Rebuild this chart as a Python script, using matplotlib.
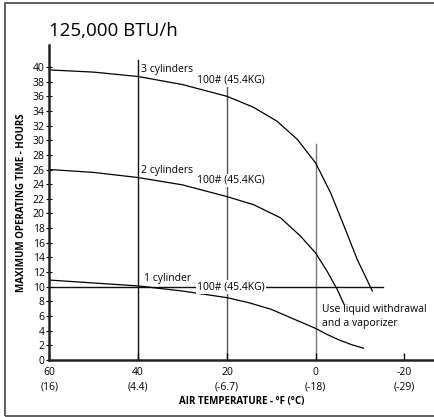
import numpy as np
import matplotlib.pyplot as plt
from matplotlib.patches import Rectangle

plt.rcParams['font.family'] = ['Open Sans', 'DejaVu Sans']

# hours vs air temperature (deg F)
temps_3cyl = [60, 50, 40, 30, 20, 14, 8.7, 4.1, 0, -3.4, -6.4, -9.4, -12.8]
hours_3cyl = [39.6, 39.3, 38.7, 37.6, 36.0, 34.5, 32.6, 30.1, 26.9, 22.8, 18.3, 13.7, 9.4]

temps_2cyl = [60, 50, 40, 30, 20, 14, 7.9, 3.4, 0, -2.6, -4.9, -6.4]
hours_2cyl = [26.0, 25.6, 24.9, 23.9, 22.3, 21.2, 19.4, 16.9, 14.6, 12.1, 9.6, 7.6]

temps_1cyl = [60, 50, 40, 30, 20, 15, 10, 5, 0, -2.5, -5, -8, -10.8]
hours_1cyl = [10.9, 10.5, 10.1, 9.4, 8.5, 7.8, 6.9, 5.6, 4.3, 3.5, 2.8, 2.1, 1.6]

xticks_f = [60, 40, 20, 0, -20]
xticks_c = ["(16)", "(4.4)", "(-6.7)", "(-18)", "(-29)"]
yticks = list(range(0, 41, 2))

# guide lines: (temperature, top in hours, colour)
guides = [(40, 40.9, "#111111"), (20, 37.4, "#555555"), (0, 29.5, "#777777")]

fig = plt.figure(figsize=(4.34, 4.17), dpi=100)
ax = fig.add_axes([0.114, 0.137, 0.886, 0.755])

for t, top, c in guides:
    ax.plot([t, t], [0, top], color=c, lw=1.0, zorder=1)
ax.plot([60, -15.1], [10, 10], color="#111111", lw=1.0, zorder=1)

ax.plot(temps_3cyl, hours_3cyl, color="black", lw=0.9, zorder=2)
ax.plot(temps_2cyl, hours_2cyl, color="black", lw=0.9, zorder=2)
ax.plot(temps_1cyl, hours_1cyl, color="black", lw=0.9, zorder=2)

fs = 7.5
ax.text(39.3, 38.9, "3 cylinders", fontsize=fs, va="bottom", ha="left")
ax.text(39.3, 25.1, "2 cylinders", fontsize=fs, va="bottom", ha="left")
ax.text(38.6, 10.4, "1 cylinder", fontsize=fs, va="bottom", ha="left")
bb = dict(facecolor="white", edgecolor="none", pad=1.0)
ax.text(26.7, 38.2, "100# (45.4KG)", fontsize=fs, va="center", ha="left", bbox=bb, zorder=3)
ax.text(26.7, 24.5, "100# (45.4KG)", fontsize=fs, va="center", ha="left", bbox=bb, zorder=3)
ax.text(26.7, 10.0, "100# (45.4KG)", fontsize=fs, va="center", ha="left", bbox=bb, zorder=3)
ax.text(-1.5, 7.6, "Use liquid withdrawal\nand a vaporizer", fontsize=fs, va="top", ha="left",
        linespacing=1.3)

ax.set_xlim(60, -26.7)
ax.set_ylim(0, 43)
ax.set_xticks(xticks_f)
ax.set_xticklabels([f"{f}\n{c}" for f, c in zip(xticks_f, xticks_c)], fontsize=fs, linespacing=1.5)
ax.set_yticks(yticks)
ax.set_yticklabels([str(v) for v in yticks], fontsize=fs)
ax.tick_params(axis="x", direction="in", length=5, width=1, pad=5)
ax.tick_params(axis="y", direction="inout", length=4, width=0.8, pad=1.5)
for s in ["top", "right"]:
    ax.spines[s].set_visible(False)
ax.spines["left"].set_linewidth(1.8)
ax.spines["bottom"].set_linewidth(1.8)
ax.spines["left"].set_color("#222222")
ax.spines["bottom"].set_color("#222222")

ax.set_xlabel("AIR TEMPERATURE - °F (°C)", fontsize=7, fontweight="bold", labelpad=2)
ax.set_ylabel("MAXIMUM OPERATING TIME - HOURS", fontsize=7, fontweight="bold", labelpad=4)

fig.text(0.114, 0.905, "125,000 BTU/h", fontsize=13.5, ha="left", va="bottom")

fig.patches.append(Rectangle((5 / 434, 1 / 417), 2.0, 1 - 4 / 417, transform=fig.transFigure,
                             fill=False, edgecolor="#444444", lw=1.2))

fig.savefig("out.png", dpi=100)
